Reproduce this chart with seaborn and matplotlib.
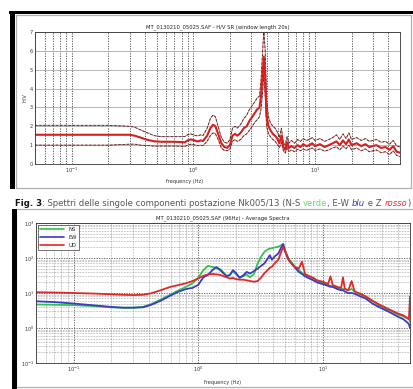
import matplotlib
matplotlib.use("Agg")
import matplotlib.pyplot as plt
import numpy as np
import pandas as pd
import seaborn as sns
from matplotlib.patches import Rectangle
from matplotlib.ticker import LogLocator, NullFormatter, FixedLocator

# ---------------- H/V spectral ratio (top panel) ----------------
hv_freq = [0.05, 0.1, 0.2, 0.3, 0.33, 0.37, 0.42, 0.48, 0.55, 0.65, 0.75, 0.85,
           0.9, 0.95, 1.0, 1.05, 1.1, 1.15, 1.2, 1.3, 1.38, 1.45, 1.52, 1.6,
           1.7, 1.8, 1.9, 2.0, 2.1, 2.2, 2.3, 2.45, 2.6, 2.75, 2.9, 3.05, 3.2,
           3.35, 3.5, 3.6, 3.7, 3.8, 3.9, 4.0, 4.15, 4.3, 4.5, 4.7, 4.9, 5.1,
           5.3, 5.5, 5.7, 5.9, 6.1, 6.4, 6.8, 7.2, 7.6, 8.0, 8.5, 9.0, 9.5,
           10, 11, 12, 13, 14, 15, 16, 17, 18, 19, 20, 22, 24, 26, 28, 30, 32,
           35, 38, 41, 44, 47, 50]
hv_mean = [1.55, 1.55, 1.55, 1.55, 1.5, 1.4, 1.28, 1.2, 1.18, 1.18, 1.17, 1.15,
           1.25, 1.3, 1.28, 1.22, 1.2, 1.25, 1.22, 1.5, 1.9, 2.08, 2.0, 1.6,
           1.1, 0.9, 0.86, 1.0, 1.5, 1.6, 1.5, 1.65, 1.9, 2.0, 2.3, 2.5, 2.7,
           2.9, 3.0, 3.6, 4.6, 5.7, 4.6, 2.6, 2.0, 1.8, 1.6, 1.5, 1.35, 1.1,
           1.5, 0.9, 0.75, 1.15, 0.85, 0.95, 0.85, 1.0, 0.9, 1.05, 0.95, 1.0,
           1.1, 0.95, 1.05, 0.9, 1.0, 1.1, 1.2, 1.0, 1.25, 1.05, 1.3, 1.0, 1.1,
           0.95, 1.05, 0.9, 0.95, 1.0, 0.85, 0.9, 0.75, 0.95, 0.65, 0.6]
hv_upper = [2.05, 2.05, 2.05, 2.0, 1.95, 1.8, 1.65, 1.5, 1.45, 1.45, 1.45, 1.45,
            1.55, 1.6, 1.55, 1.5, 1.5, 1.55, 1.5, 1.9, 2.4, 2.6, 2.5, 2.0,
            1.4, 1.15, 1.1, 1.3, 1.9, 2.0, 1.9, 2.1, 2.4, 2.6, 2.9, 3.1, 3.3,
            3.5, 3.6, 4.4, 5.8, 7.1, 6.0, 3.4, 2.5, 2.2, 2.0, 1.9, 1.7, 1.4,
            1.9, 1.15, 1.0, 1.45, 1.1, 1.25, 1.1, 1.3, 1.2, 1.35, 1.25, 1.3,
            1.4, 1.25, 1.35, 1.2, 1.3, 1.4, 1.55, 1.3, 1.6, 1.35, 1.65, 1.3,
            1.4, 1.25, 1.35, 1.2, 1.25, 1.3, 1.15, 1.2, 1.05, 1.25, 0.95, 0.9]
hv_lower = [1.0, 1.0, 1.0, 1.05, 1.05, 1.0, 0.98, 0.95, 0.95, 0.95, 0.95, 0.93,
            1.0, 1.05, 1.03, 1.0, 0.98, 1.0, 0.98, 1.2, 1.5, 1.65, 1.6, 1.3,
            0.85, 0.72, 0.7, 0.8, 1.2, 1.3, 1.2, 1.3, 1.5, 1.6, 1.8, 2.0, 2.2,
            2.35, 2.5, 2.9, 3.7, 4.8, 3.6, 2.0, 1.6, 1.45, 1.3, 1.2, 1.05, 0.85,
            1.15, 0.7, 0.58, 0.9, 0.65, 0.75, 0.65, 0.78, 0.7, 0.8, 0.72, 0.78,
            0.85, 0.72, 0.8, 0.68, 0.75, 0.85, 0.92, 0.75, 0.95, 0.8, 1.0, 0.75,
            0.85, 0.7, 0.8, 0.65, 0.7, 0.75, 0.6, 0.65, 0.5, 0.7, 0.45, 0.4]

# ---------------- Average spectra (bottom panel) ----------------
sp_freq = [0.05, 0.07, 0.1, 0.15, 0.2, 0.25, 0.3, 0.36, 0.42, 0.5, 0.6, 0.7,
           0.8, 0.9, 1.0, 1.1, 1.2, 1.3, 1.4, 1.5, 1.6, 1.7, 1.8, 1.9, 2.0,
           2.15, 2.3, 2.45, 2.6, 2.8, 3.0, 3.2, 3.4, 3.6, 3.75, 3.9, 4.1, 4.4,
           4.6, 4.8, 5.0, 5.3, 5.6, 6.0, 6.4, 6.8, 7.2, 7.8, 8.4, 9.0, 10, 11,
           11.5, 12, 13, 14, 14.5, 15, 16, 17, 18, 20, 22, 25, 28, 32, 36, 40,
           44, 47, 49, 50]
sp_ns = [4.7, 4.6, 4.5, 4.2, 3.9, 3.8, 3.8, 4.0, 4.8, 6.5, 9.0, 12,
         15, 19, 27, 45, 60, 55, 52, 48, 38, 30, 34, 42, 35,
         28, 30, 34, 28, 35, 70, 110, 150, 175, 185, 190, 200, 210,
         230, 250, 160, 95, 75, 55, 45, 38, 33, 30, 25, 21, 20, 17,
         16, 16, 14, 13, 13, 13, 12, 13, 11, 9, 8, 6, 4.5, 3.5, 3.0, 2.4,
         2.2, 1.9, 1.8, 1.5]
sp_ew = [5.8, 5.5, 5.0, 4.4, 4.0, 3.8, 3.8, 3.9, 4.6, 6.0, 8.5, 11,
         13, 14, 17, 28, 33, 45, 55, 45, 36, 30, 33, 45, 38,
         27, 32, 40, 36, 42, 50, 60, 70, 95, 120, 90, 110, 135,
         190, 250, 150, 90, 70, 52, 40, 35, 30, 26, 23, 20, 18, 16,
         15, 15, 13, 12, 12, 11, 10, 10, 9.5, 8, 7, 5, 4, 3.2, 2.6, 2.1,
         1.8, 1.5, 1.3, 1.0]
sp_ud = [10.5, 10.3, 10.0, 9.6, 9.2, 8.9, 8.7, 8.9, 9.8, 12, 15, 17,
         19, 22, 26, 31, 34, 35, 34, 33, 30, 28, 26, 27, 25,
         24, 24, 23, 22, 21, 22, 28, 37, 45, 52, 56, 70, 90,
         140, 210, 150, 90, 70, 55, 50, 78, 35, 30, 27, 23, 21, 18,
         30, 17, 15, 14, 28, 13, 12, 22, 11, 9.5, 8, 6, 4.8, 3.8, 3.1, 2.6,
         2.3, 2.0, 1.8, 8]
components = ["NS", "EW", "UD"]
comp_colors = {"NS": "#33c24a", "EW": "#3a3ac8", "UD": "#e02828"}

caption_parts = [
    ("Fig. 3", "bold", "normal", "#111111"),
    (": Spettri delle singole componenti postazione Nk005/13 (N-S ", "normal", "normal", "#555555"),
    ("verde", "normal", "normal", "#66dd66"),
    (", E-W ", "normal", "normal", "#555555"),
    ("blu", "normal", "italic", "#3333cc"),
    (" e Z ", "normal", "normal", "#555555"),
    ("rosso", "normal", "italic", "#ee3333"),
    (")", "normal", "normal", "#555555"),
]

sns.set_theme(style="white")
plt.rcParams["font.family"] = ["DejaVu Sans"]
plt.rcParams["xtick.direction"] = "in"
plt.rcParams["ytick.direction"] = "in"

W, H = 414, 389
fig = plt.figure(figsize=(W / 100, H / 100), dpi=100)
fig.patch.set_facecolor("white")


def fx(px):
    return px / W


def fy(py):
    return 1 - py / H


# page decorations: frames around each figure and the black page rules
fig.patches.append(Rectangle((fx(16), fy(188)), fx(411) - fx(16), fy(15) - fy(188),
                             transform=fig.transFigure, fill=False, ec="#b0b0b0", lw=0.9))
fig.patches.append(Rectangle((fx(16), fy(387)), fx(416) - fx(16), fy(209) - fy(387),
                             transform=fig.transFigure, fill=False, ec="#b0b0b0", lw=0.9))
fig.patches.append(Rectangle((fx(9), fy(14)), fx(414) - fx(9), fy(11) - fy(14),
                             transform=fig.transFigure, fc="black", ec="none"))
fig.patches.append(Rectangle((fx(10), fy(189)), fx(15) - fx(10), fy(11) - fy(189),
                             transform=fig.transFigure, fc="black", ec="none"))
fig.patches.append(Rectangle((fx(12), fy(389)), fx(17) - fx(12), fy(209) - fy(389),
                             transform=fig.transFigure, fc="black", ec="none"))

tick_fs = 3.6

# ---------------- top panel ----------------
ax1 = fig.add_axes([fx(35), fy(164), fx(400) - fx(35), fy(32) - fy(164)])
hv = pd.DataFrame({"freq": hv_freq, "mean": hv_mean, "upper": hv_upper, "lower": hv_lower})
for col in ("upper", "lower"):
    sns.lineplot(data=hv, x="freq", y=col, ax=ax1, color="#e04040", lw=0.6,
                 estimator=None, sort=False, alpha=0.8)
    sns.lineplot(data=hv, x="freq", y=col, ax=ax1, color="#333333", lw=0.6,
                 estimator=None, sort=False, dashes=False, linestyle=(0, (3, 2)))
sns.lineplot(data=hv, x="freq", y="mean", ax=ax1, color="#d81e1e", lw=1.5,
             estimator=None, sort=False)
ax1.set_xscale("log")
ax1.set_xlim(0.05, 50)
ax1.set_ylim(0, 7)
ax1.set_yticks(range(0, 8))
ax1.xaxis.set_major_locator(FixedLocator([0.1, 1, 10]))
ax1.xaxis.set_minor_locator(LogLocator(base=10, subs=np.arange(2, 10), numticks=20))
ax1.xaxis.set_minor_formatter(NullFormatter())
ax1.set_xticklabels(["$10^{-1}$", "$10^{0}$", "$10^{1}$"])
ax1.grid(which="major", axis="y", color="#9a9a9a", ls="-", lw=0.5)
ax1.grid(which="both", axis="x", color="#444444", ls=(0, (1.5, 1.5)), lw=0.6)
ax1.tick_params(labelsize=tick_fs, length=2, width=0.5, pad=1.5, colors="#333333")
ax1.tick_params(which="minor", length=1.2, width=0.4)
ax1.set_title("MT_0130210_05025.SAF - H/V SR (window length 20s)", fontsize=3.8, pad=3,
              color="#222222")
ax1.set_xlabel("frequency (Hz)", fontsize=3.6, color="#333333")
ax1.xaxis.set_label_coords((185 - 35) / 365, -0.115)
ax1.set_ylabel("H/V", fontsize=3.6, color="#333333", labelpad=2)
for s in ax1.spines.values():
    s.set_color("#333333")
    s.set_linewidth(0.6)

# ---------------- caption ----------------
fig.canvas.draw()
renderer = fig.canvas.get_renderer()
x_cur = fx(15)
for txt, weight, style, col in caption_parts:
    t = fig.text(x_cur, fy(203), txt, fontsize=6.12, fontweight=weight, fontstyle=style,
                 color=col, va="center", ha="left")
    bb = t.get_window_extent(renderer=renderer)
    x_cur += bb.width / (W)

# ---------------- bottom panel ----------------
ax2 = fig.add_axes([fx(36), fy(363), fx(410) - fx(36), fy(223) - fy(363)])
series = {"NS": sp_ns, "EW": sp_ew, "UD": sp_ud}
sp = pd.concat([pd.DataFrame({"freq": sp_freq, "amp": series[c], "comp": c}) for c in components],
               ignore_index=True)
sns.lineplot(data=sp, x="freq", y="amp", hue="comp", hue_order=components,
             palette=comp_colors, estimator=None, sort=False, lw=1.3, ax=ax2)
ax2.set_xscale("log")
ax2.set_yscale("log")
ax2.set_xlim(0.05, 50)
ax2.set_ylim(0.1, 1000)
ax2.xaxis.set_major_locator(FixedLocator([0.1, 1, 10]))
ax2.xaxis.set_minor_locator(LogLocator(base=10, subs=np.arange(2, 10), numticks=20))
ax2.xaxis.set_minor_formatter(NullFormatter())
ax2.set_xticklabels(["$10^{-1}$", "$10^{0}$", "$10^{1}$"])
ax2.yaxis.set_major_locator(FixedLocator([0.1, 1, 10, 100, 1000]))
ax2.yaxis.set_minor_locator(LogLocator(base=10, subs=np.arange(2, 10), numticks=20))
ax2.yaxis.set_minor_formatter(NullFormatter())
ax2.set_yticklabels(["$10^{-1}$", "$10^{0}$", "$10^{1}$", "$10^{2}$", "$10^{3}$"])
ax2.grid(which="major", color="#555555", ls=(0, (1.5, 1.5)), lw=0.6)
ax2.grid(which="minor", color="#777777", ls=(0, (1, 1.5)), lw=0.45)
ax2.tick_params(labelsize=tick_fs, length=2, width=0.5, pad=1.5, colors="#333333")
ax2.tick_params(which="minor", length=1.2, width=0.4)
ax2.set_title("MT_0130210_05025.SAF (96Hz) - Average Spectra", fontsize=3.8, pad=3,
              color="#222222")
ax2.set_xlabel("frequency (Hz)", fontsize=3.6, color="#333333", labelpad=4)
ax2.set_ylabel("")
for s in ax2.spines.values():
    s.set_color("#333333")
    s.set_linewidth(0.6)
handles, labels = ax2.get_legend_handles_labels()
leg = ax2.legend(handles, labels, loc="upper left", fontsize=3.8, frameon=True,
                 fancybox=False, edgecolor="#333333", handlelength=4.5,
                 borderpad=0.5, labelspacing=0.5, bbox_to_anchor=(0.0, 1.0),
                 borderaxespad=0.3)
leg.get_frame().set_linewidth(0.6)
for line in leg.get_lines():
    line.set_linewidth(1.2)

fig.savefig("out.png", dpi=100, facecolor="white")
